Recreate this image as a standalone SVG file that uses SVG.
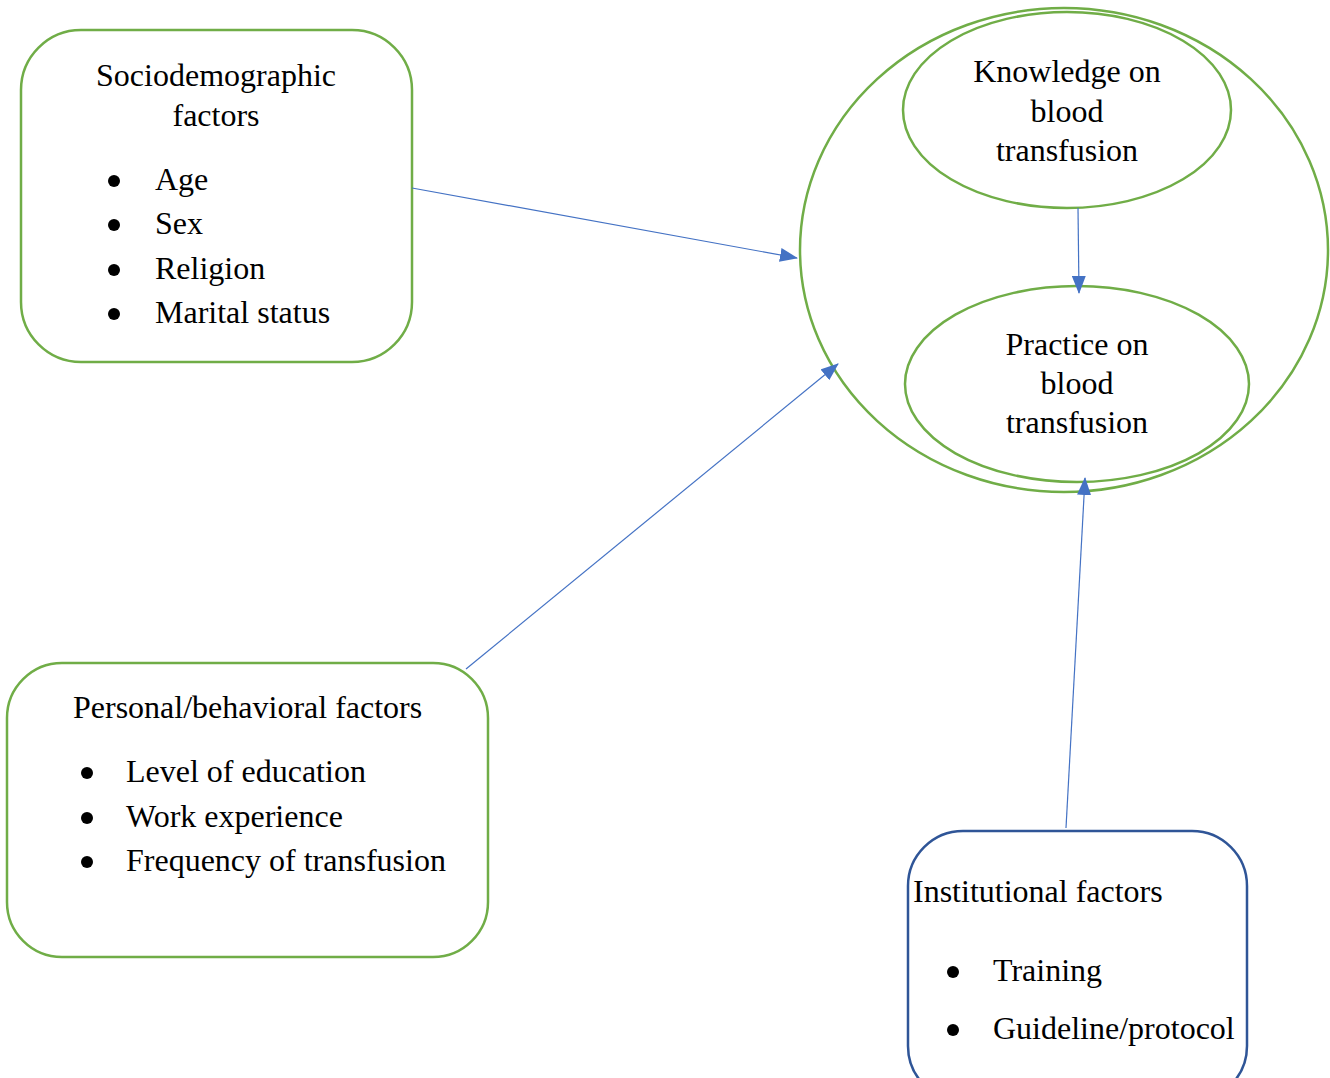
<svg xmlns="http://www.w3.org/2000/svg" width="1330" height="1078" viewBox="0 0 1330 1078">
<style>
.g{fill:none;stroke:#70AD47;stroke-width:2.5}
.b{fill:none;stroke:#2F5597;stroke-width:2.5}
.t{font-family:"Liberation Serif","Times New Roman",serif;font-size:32px;fill:#000}
.c{text-anchor:middle}
.d{fill:#000}
.a{stroke:#4472C4;stroke-width:1.2;fill:none;marker-end:url(#ah)}
</style>
<defs>
<marker id="ah" markerWidth="18" markerHeight="14" refX="17" refY="7" orient="auto" markerUnits="userSpaceOnUse" viewBox="0 0 18 14">
<path d="M0,0 L18,7 L0,14 Z" fill="#4472C4"/>
</marker>
</defs>
<rect width="1330" height="1078" fill="#fff"/>
<g id="outer">
<ellipse class="g" cx="1064" cy="250" rx="264" ry="242"/>
</g>
<g id="knowledge">
<ellipse class="g" cx="1067" cy="110" rx="164" ry="98"/>
<text class="t c" x="1067" y="82">Knowledge on</text>
<text class="t c" x="1067" y="122">blood</text>
<text class="t c" x="1067" y="161">transfusion</text>
</g>
<g id="practice">
<ellipse class="g" cx="1077" cy="384" rx="172" ry="98"/>
<text class="t c" x="1077" y="355">Practice on</text>
<text class="t c" x="1077" y="394">blood</text>
<text class="t c" x="1077" y="433">transfusion</text>
</g>
<g id="sociodemographic">
<rect class="g" x="21" y="30" width="391" height="332" rx="60"/>
<text class="t c" x="216" y="86">Sociodemographic</text>
<text class="t c" x="216" y="126">factors</text>
<circle class="d" cx="114" cy="181" r="6"/><text class="t" x="155" y="190">Age</text>
<circle class="d" cx="114" cy="225" r="6"/><text class="t" x="155" y="234">Sex</text>
<circle class="d" cx="114" cy="270" r="6"/><text class="t" x="155" y="279">Religion</text>
<circle class="d" cx="114" cy="314" r="6"/><text class="t" x="155" y="323">Marital status</text>
</g>
<g id="personal">
<rect class="g" x="7" y="663" width="481" height="294" rx="55"/>
<text class="t" x="73" y="718">Personal/behavioral factors</text>
<circle class="d" cx="87" cy="773" r="6"/><text class="t" x="126" y="782">Level of education</text>
<circle class="d" cx="87" cy="818" r="6"/><text class="t" x="126" y="827">Work experience</text>
<circle class="d" cx="87" cy="862" r="6"/><text class="t" x="126" y="871">Frequency of transfusion</text>
</g>
<g id="institutional">
<rect class="b" x="908" y="831" width="339" height="270" rx="55"/>
<text class="t" x="913" y="902">Institutional factors</text>
<circle class="d" cx="953" cy="972" r="6"/><text class="t" x="993" y="981">Training</text>
<circle class="d" cx="953" cy="1030" r="6"/><text class="t" x="993" y="1039">Guideline/protocol</text>
</g>
<g id="connectors">
<line class="a" x1="412" y1="188" x2="797" y2="258"/>
<line class="a" x1="466" y1="669" x2="838" y2="364"/>
<line class="a" x1="1078" y1="208" x2="1079" y2="293"/>
<line class="a" x1="1066" y1="828" x2="1085" y2="478"/>
</g>
</svg>
